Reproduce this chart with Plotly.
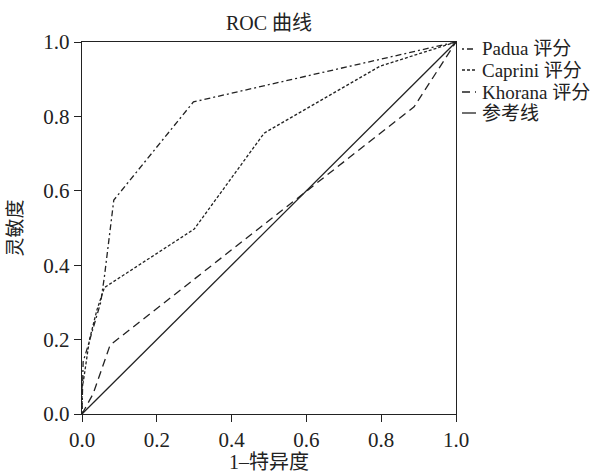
import plotly.graph_objects as go

padua_x = [0.0, 0.003, 0.018, 0.05, 0.06, 0.085, 0.298, 1.0]
padua_y = [0.0, 0.14, 0.19, 0.30, 0.37, 0.575, 0.839, 1.0]

caprini_x = [0.0, 0.0, 0.004, 0.02, 0.04, 0.06, 0.30, 0.487, 0.797, 1.0]
caprini_y = [0.0, 0.07, 0.09, 0.20, 0.28, 0.34, 0.497, 0.755, 0.935, 1.0]

khorana_x = [0.0, 0.03, 0.075, 0.888, 1.0]
khorana_y = [0.0, 0.055, 0.185, 0.826, 1.0]

ref_x = [0.0, 1.0]
ref_y = [0.0, 1.0]

names = ["Padua 评分", "Caprini 评分", "Khorana 评分", "参考线"]
tick_vals = [0.0, 0.2, 0.4, 0.6, 0.8, 1.0]
tick_text = ["0.0", "0.2", "0.4", "0.6", "0.8", "1.0"]

FONT = "Liberation Serif, Noto Sans CJK SC"
C = "#222222"
DASHES = ["2px,3px,6px,3px", "3px,2px", "8px,5px", "solid"]

# plot area in pixels
L, R, T, B = 82, 149, 42, 59
W, H = 605, 473
PW, PH = W - L - R, H - T - B

fig = go.Figure()
series = [(padua_x, padua_y), (caprini_x, caprini_y), (khorana_x, khorana_y), (ref_x, ref_y)]
for (xs, ys), nm, ds in zip(series, names, DASHES):
    fig.add_trace(go.Scatter(x=xs, y=ys, mode="lines", name=nm, showlegend=False,
                             line=dict(color=C, width=1.3, dash=ds)))

# compact legend with short swatches, like the reference
row_y = [49, 70, 92, 113]
for nm, ds, py in zip(names, DASHES, row_y):
    yp = (H - B - py) / PH
    fig.add_shape(type="line", xref="paper", yref="paper",
                  x0=(462 - L) / PW, x1=(476 - L) / PW, y0=yp, y1=yp,
                  line=dict(color=C, width=1.3, dash=ds))
    fig.add_annotation(xref="paper", yref="paper", x=(480 - L) / PW, y=yp,
                       xanchor="left", yanchor="middle", showarrow=False,
                       text=nm, font=dict(family=FONT, size=19, color=C))

axis_common = dict(
    range=[0, 1], tickvals=tick_vals, ticktext=tick_text, automargin=False,
    showgrid=False, zeroline=False, showline=True, linecolor=C, linewidth=1.4,
    mirror=True, ticks="outside", ticklen=7, tickcolor=C, tickwidth=1.3,
    tickfont=dict(family=FONT, size=21, color=C),
)

fig.update_layout(
    width=W, height=H,
    margin=dict(l=L, r=R, t=T, b=B),
    paper_bgcolor="white", plot_bgcolor="white",
    font=dict(family=FONT, color=C),
    title=dict(text="ROC 曲线", x=(L + PW / 2) / W, xanchor="center",
               y=1 - 23 / H, yanchor="middle",
               font=dict(family=FONT, size=20, color=C)),
    xaxis=dict(axis_common, title=dict(text="1–特异度",
                                       font=dict(family=FONT, size=20, color=C))),
    yaxis=dict(axis_common, title=dict(text="灵敏度",
                                       font=dict(family=FONT, size=19, color=C))),
    showlegend=False,
)

fig.write_html("out.html", config={"displayModeBar": False},
               post_script="document.body.style.margin='0';")
